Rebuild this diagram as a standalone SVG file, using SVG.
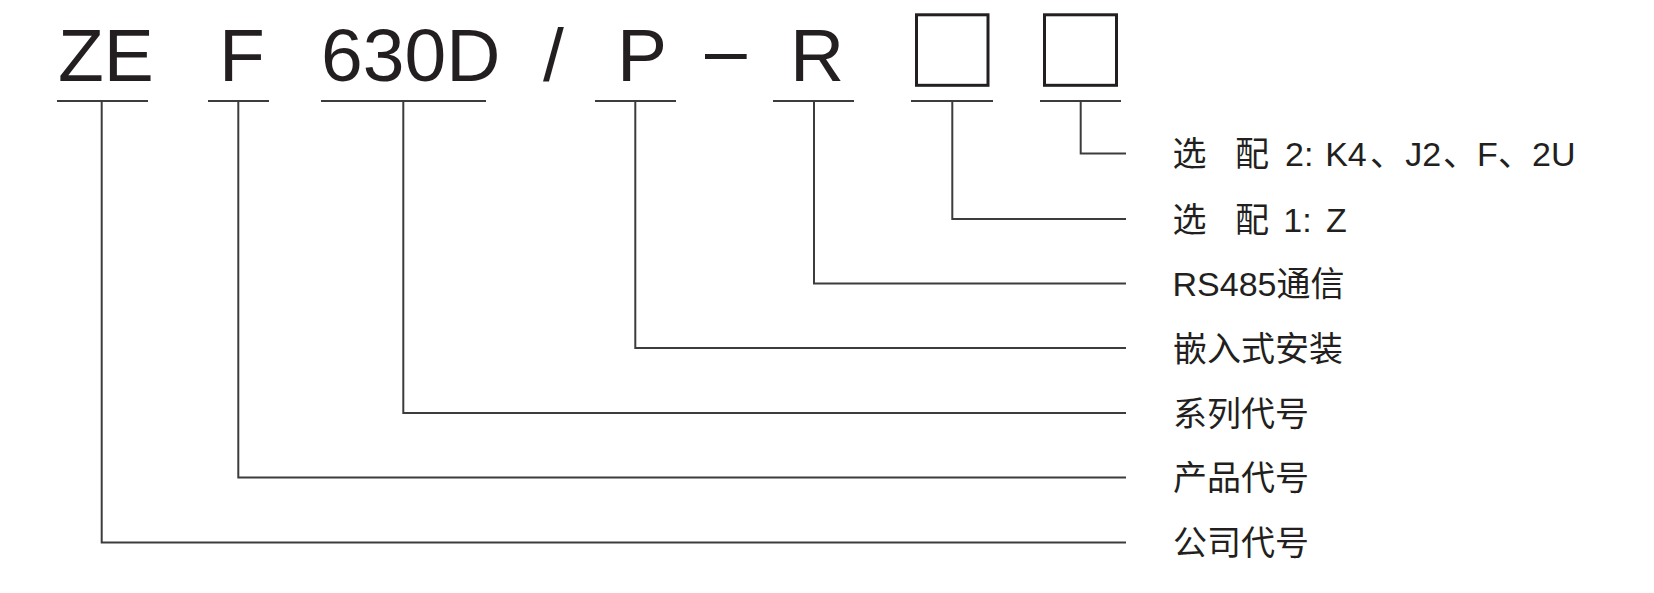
<svg xmlns="http://www.w3.org/2000/svg" width="1654" height="593" viewBox="0 0 1654 593">
<style>
.code{font-family:"Liberation Sans",Arial,sans-serif;font-size:75px;fill:#231f20}
.lbl{font-family:"Liberation Sans","Noto Sans CJK SC",sans-serif;font-size:34px;fill:#231f20}
.ul{stroke:#3c3c3c;stroke-width:2;fill:none}
.conn{stroke:#3c3c3c;stroke-width:2;fill:none}
.box{stroke:#231f20;stroke-width:3;fill:none}
</style>
<rect width="1654" height="593" fill="#ffffff"/>

<g id="code-ZE"><text class="code" x="58" y="81">ZE</text><line class="ul" x1="57" y1="101" x2="148" y2="101"/></g>
<g id="code-F"><text class="code" x="219" y="81">F</text><line class="ul" x1="208" y1="101" x2="269" y2="101"/></g>
<g id="code-630D"><text class="code" x="321" y="81">630D</text><line class="ul" x1="321" y1="101" x2="486" y2="101"/></g>
<g id="code-slash"><text class="code" x="543" y="81">/</text></g>
<g id="code-P"><text class="code" x="617" y="81">P</text><line class="ul" x1="595" y1="101" x2="676" y2="101"/></g>
<g id="code-dash"><text class="code" x="705" y="75">–</text></g>
<g id="code-R"><text class="code" x="790" y="81">R</text><line class="ul" x1="773" y1="101" x2="854" y2="101"/></g>
<g id="code-box1"><rect class="box" x="916.5" y="14.8" width="71.5" height="70.5"/><line class="ul" x1="911" y1="101" x2="993" y2="101"/></g>
<g id="code-box2"><rect class="box" x="1044.5" y="14.8" width="72" height="70.5"/><line class="ul" x1="1040" y1="101" x2="1121" y2="101"/></g>

<g id="connectors">
<polyline class="conn" points="1080.7,101 1080.7,153.5 1126,153.5"/>
<polyline class="conn" points="952.3,101 952.3,219 1126,219"/>
<polyline class="conn" points="814,101 814,283.5 1126,283.5"/>
<polyline class="conn" points="635.3,101 635.3,348 1126,348"/>
<polyline class="conn" points="403.3,101 403.3,413 1126,413"/>
<polyline class="conn" points="238.3,101 238.3,477.5 1126,477.5"/>
<polyline class="conn" points="101.7,101 101.7,542.5 1126,542.5"/>
</g>

<g id="label-option2"><text class="lbl" y="166"><tspan x="1172.5">选</tspan><tspan x="1235">配</tspan><tspan x="1285">2:</tspan><tspan x="1325.2">K4</tspan><tspan x="1370">、</tspan><tspan x="1405.3">J2</tspan><tspan x="1443">、</tspan><tspan x="1477">F</tspan><tspan x="1498">、</tspan><tspan x="1532">2U</tspan></text></g>
<g id="label-option1"><text class="lbl" y="231.5"><tspan x="1172.5">选</tspan><tspan x="1235">配</tspan><tspan x="1283.3">1:</tspan><tspan x="1326">Z</tspan></text></g>
<g id="label-rs485"><text class="lbl" x="1172.5" y="296">RS485通信</text></g>
<g id="label-mount"><text class="lbl" x="1173" y="360.5">嵌入式安装</text></g>
<g id="label-series"><text class="lbl" x="1173" y="425.5">系列代号</text></g>
<g id="label-product"><text class="lbl" x="1173" y="490">产品代号</text></g>
<g id="label-company"><text class="lbl" x="1173" y="555">公司代号</text></g>
</svg>
